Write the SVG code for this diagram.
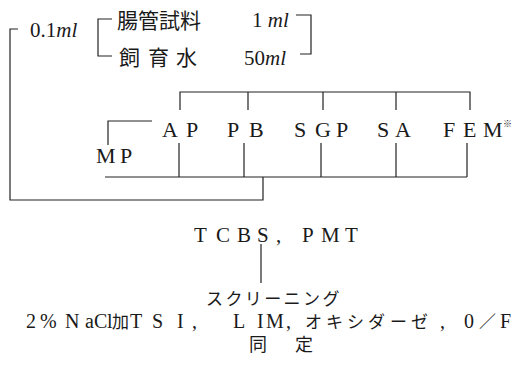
<svg xmlns="http://www.w3.org/2000/svg" width="513" height="382" viewBox="0 0 513 382">
<style>
.ln{stroke:#222;stroke-width:1.2;fill:none}
.lat{font-family:"Liberation Serif","Noto Sans CJK JP",serif;fill:#1a1a1a}
.jp{font-family:"Noto Sans CJK JP",sans-serif;fill:#1a1a1a}
.it{font-style:italic}
</style>
<rect width="513" height="382" fill="#fff"/>
<g id="connectors">
<path class="ln" d="M18 29H10V200H263V177"/>
<path class="ln" d="M112 19H98V56H112"/>
<path class="ln" d="M296 15H311V54H300"/>
<path class="ln" d="M180 110V92H470V110M248 92V110M323 92V110M396 92V110"/>
<path class="ln" d="M108 145V121H152"/>
<path class="ln" d="M105 177H467M179 143V177M244 143V177M321 143V177M396 143V177M467 143V177"/>
<path class="ln" d="M261 244V283"/>
</g>
<g id="n_dose"><text class="lat" x="30" y="37" font-size="21">0.1<tspan class="it">ml</tspan></text></g>
<g id="n_sample">
<text class="jp" x="117" y="28" font-size="21">腸管試料</text>
<text class="lat" x="252" y="27" font-size="21">1 <tspan class="it">ml</tspan></text>
</g>
<g id="n_water">
<text class="jp" font-size="21" y="65"><tspan x="119">飼</tspan><tspan x="148">育</tspan><tspan x="176">水</tspan></text>
<text class="lat" x="244" y="65" font-size="21">50<tspan class="it">ml</tspan></text>
</g>
<g id="n_media">
<text class="lat" font-size="22" y="137"><tspan x="162">A</tspan><tspan x="186">P</tspan><tspan x="227">P</tspan><tspan x="249">B</tspan><tspan x="294">S</tspan><tspan x="315">G</tspan><tspan x="336">P</tspan><tspan x="377">S</tspan><tspan x="395">A</tspan><tspan x="443">F</tspan><tspan x="463">E</tspan><tspan x="483">M</tspan></text>
<text class="jp" x="503" y="127" font-size="9">※</text>
<text class="lat" font-size="22" y="163"><tspan x="96">M</tspan><tspan x="120">P</tspan></text>
</g>
<g id="n_tcbs">
<text class="lat" font-size="21" y="242"><tspan x="194">T</tspan><tspan x="216">C</tspan><tspan x="237">B</tspan><tspan x="257">S</tspan><tspan x="276">,</tspan><tspan x="302">P</tspan><tspan x="321">M</tspan><tspan x="345">T</tspan></text>
</g>
<g id="n_screen"><text class="jp" x="206" y="305" font-size="17" letter-spacing="2.4">スクリーニング</text></g>
<g id="n_tests">
<text class="lat" font-size="20" y="328"><tspan x="26">2</tspan><tspan x="40">%</tspan><tspan x="65">N</tspan><tspan x="85">a</tspan><tspan x="94">C</tspan><tspan x="107">l</tspan><tspan x="130">T</tspan><tspan x="152">S</tspan><tspan x="177">I</tspan><tspan x="192">,</tspan><tspan x="233">L</tspan><tspan x="257">I</tspan><tspan x="266">M</tspan><tspan x="286">,</tspan><tspan x="440">,</tspan><tspan x="464">0</tspan><tspan x="500">F</tspan></text>
<text class="jp" x="112" y="328" font-size="17">加</text>
<text class="jp" font-size="17" y="328"><tspan x="305">オ</tspan><tspan x="326">キ</tspan><tspan x="347">シ</tspan><tspan x="368">ダ</tspan><tspan x="390">ー</tspan><tspan x="411">ゼ</tspan><tspan x="479">／</tspan></text>
</g>
<g id="n_ident"><text class="jp" font-size="18" y="351"><tspan x="249">同</tspan><tspan x="295">定</tspan></text></g>
</svg>
